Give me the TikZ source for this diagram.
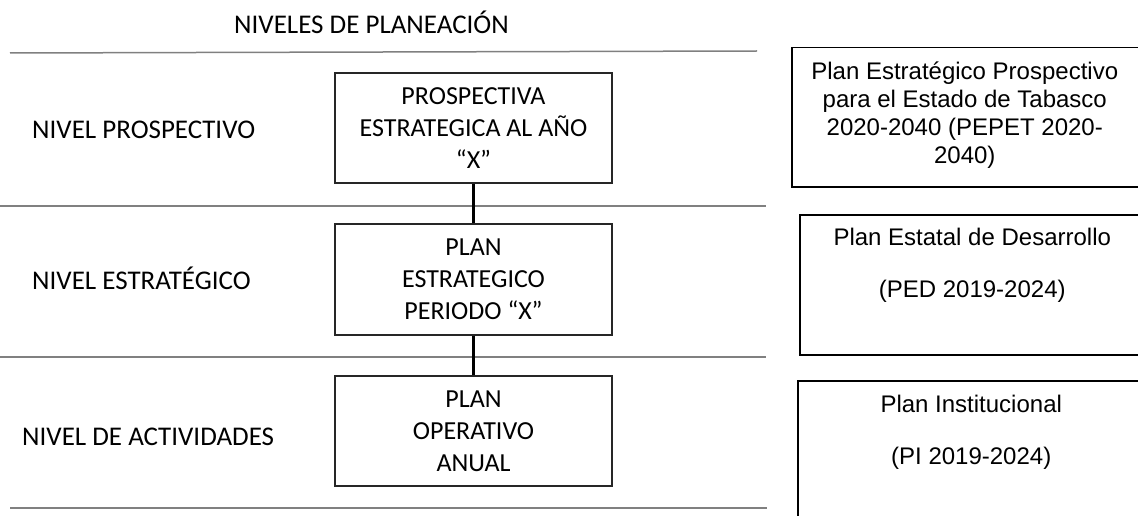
\documentclass[tikz,border=0pt]{standalone}
\usepackage{fontspec}
\setmainfont{Carlito}
\newfontfamily\arialfont{Liberation Sans}
\usetikzlibrary{positioning}

\tikzset{
  level/.style={draw=black!85,line width=1.4pt,minimum width=277pt,align=center,
    inner sep=0pt,font=\fontsize{26}{32}\selectfont},
  refbox/.style={draw,line width=1.5pt,anchor=north west},
  reftext/.style={align=center,font=\arialfont\fontsize{24}{28}\selectfont},
  tag/.style={anchor=base west,inner sep=0pt,font=\fontsize{27}{32}\selectfont},
  sep/.style={draw=black!50,line width=1.5pt},
  link/.style={line width=3pt},
}

\begin{document}
\begin{tikzpicture}[x=1pt,y=-1pt]
  \useasboundingbox (0,0) rectangle (1138,516);
  \clip (0,0) rectangle (1138,516);

  \node[tag,anchor=base] (title) at (371.5,34) {NIVELES DE PLANEACIÓN};

  % separadores de nivel
  \draw[sep] (10,53) -- (757,51);
  \draw[sep] (0,206) -- (766,206);
  \draw[sep] (0,357) -- (766,357);
  \draw[sep] (10,508) -- (767,508);

  \node[tag] (npro) at (32,139) {NIVEL PROSPECTIVO};
  \node[tag] (nest) at (32,289) {NIVEL ESTRATÉGICO};
  \node[tag] (nact) at (22,445) {NIVEL DE ACTIVIDADES};

  \node[level,minimum height=110pt] (pe)  at (473.5,128)   {PROSPECTIVA\\ESTRATEGICA AL AÑO\\“X”};
  \node[level,minimum height=111pt] (pl)  at (473.5,279.5) {PLAN\\ESTRATEGICO\\PERIODO “X”};
  \node[level,minimum height=110pt] (poa) at (473.5,431)   {PLAN\\OPERATIVO\\ANUAL};

  \draw[link] (pe) -- (pl);
  \draw[link] (pl) -- (poa);

  % documentos de referencia
  \node[refbox,minimum width=352pt,minimum height=139pt] (pepet) at (791,47) {};
  \node[refbox,minimum width=345pt,minimum height=140pt] (ped)   at (799,214) {};
  \node[refbox,minimum width=347pt,minimum height=145pt] (pi)    at (797,380) {};

  \node[reftext] (pepettxt) at ([xshift=-3pt,yshift=2pt]pepet.center)
    {Plan Estratégico Prospectivo\\para el Estado de Tabasco\\2020-2040 (PEPET 2020-\\2040)};
  \node[reftext,below=11pt of ped.north] (pedtxt) {Plan Estatal de Desarrollo\\[24pt](PED 2019-2024)};
  \node[reftext,below=12pt of pi.north] (pitxt) {Plan Institucional\\[24pt](PI 2019-2024)};
\end{tikzpicture}
\end{document}
